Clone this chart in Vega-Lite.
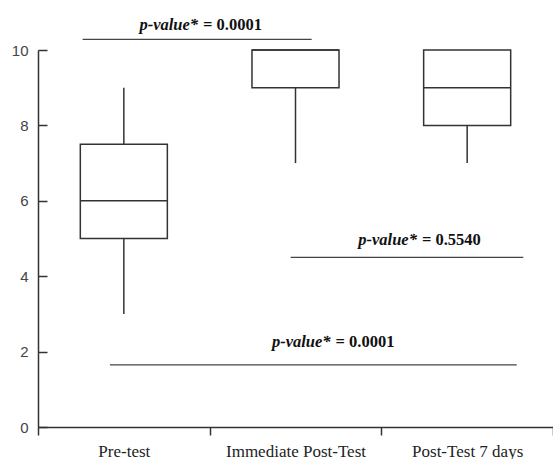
{
  "$schema": "https://vega.github.io/schema/vega-lite/v6.json",
  "width": 515,
  "height": 377,
  "autosize": "none",
  "padding": {"left": 38, "top": 50, "right": 0, "bottom": 32},
  "background": "white",
  "config": {"view": {"stroke": null}},
  "layer": [
    {
      "data": {"values": [
        {"group": "Pre-test", "lower": 3, "q1": 5, "median": 6, "q3": 7.5, "upper": 9},
        {"group": "Immediate Post-Test", "lower": 7, "q1": 9, "median": 10, "q3": 10, "upper": 10},
        {"group": "Post-Test 7 days", "lower": 7, "q1": 8, "median": 9, "q3": 10, "upper": 10}
      ]},
      "encoding": {
        "x": {
          "field": "group", "type": "nominal",
          "sort": ["Pre-test", "Immediate Post-Test", "Post-Test 7 days"],
          "scale": {"paddingInner": 0, "paddingOuter": 0},
          "axis": {
            "title": null, "labelAngle": 0, "domainColor": "#333", "domainWidth": 1.5,
            "tickColor": "#333", "tickWidth": 1.5, "tickSize": 8, "tickBand": "extent",
            "labelFont": "Liberation Serif", "labelFontSize": 17, "labelColor": "#222",
            "labelPadding": 8
          }
        }
      },
      "layer": [
        {"mark": {"type": "rule", "color": "#333", "strokeWidth": 1.5},
         "encoding": {"y": {"field": "lower", "type": "quantitative"}, "y2": {"field": "q1"}}},
        {"mark": {"type": "rule", "color": "#333", "strokeWidth": 1.5},
         "encoding": {"y": {"field": "q3", "type": "quantitative"}, "y2": {"field": "upper"}}},
        {"mark": {"type": "bar", "fill": "white", "stroke": "#333", "strokeWidth": 1.5, "width": {"band": 0.507}},
         "encoding": {
           "y": {"field": "q1", "type": "quantitative",
                 "scale": {"domain": [0, 10], "nice": false},
                 "axis": {"title": null, "values": [0, 2, 4, 6, 8, 10], "grid": false,
                          "domainColor": "#333", "domainWidth": 1.5, "tickColor": "#333", "tickWidth": 1.5,
                          "tickSize": -9, "labelFont": "Liberation Sans", "labelFontSize": 15,
                          "labelColor": "#444", "labelPadding": 19}},
           "y2": {"field": "q3"}}},
        {"mark": {"type": "tick", "color": "#333", "opacity": 1, "size": 87, "thickness": 1.5},
         "encoding": {"y": {"field": "median", "type": "quantitative"}}}
      ]
    },
    {
      "data": {"values": [
        {"x1": 0.26, "x2": 1.594, "yline": 10.28, "xt": 0.944, "yt": 10.66, "label": "p-value*", "value": "= 0.0001"},
        {"x1": 1.472, "x2": 2.827, "yline": 4.5, "xt": 2.219, "yt": 4.96, "label": "p-value*", "value": "= 0.5540"},
        {"x1": 0.419, "x2": 2.789, "yline": 1.65, "xt": 1.716, "yt": 2.26, "label": "p-value*", "value": "= 0.0001"}
      ]},
      "layer": [
        {"mark": {"type": "rule", "color": "#444", "strokeWidth": 1.2},
         "encoding": {
           "x": {"field": "x1", "type": "quantitative", "scale": {"domain": [0, 3], "nice": false}, "axis": null},
           "x2": {"field": "x2"},
           "y": {"field": "yline", "type": "quantitative"}}},
        {"mark": {"type": "text", "font": "Liberation Serif", "fontSize": 16.5, "fontWeight": "bold", "fontStyle": "italic", "align": "right", "baseline": "middle", "dx": -2, "color": "#111"},
         "encoding": {
           "x": {"field": "xt", "type": "quantitative", "scale": {"domain": [0, 3], "nice": false}, "axis": null},
           "y": {"field": "yt", "type": "quantitative"},
           "text": {"field": "label"}}},
        {"mark": {"type": "text", "font": "Liberation Serif", "fontSize": 16.5, "fontWeight": "bold", "align": "left", "baseline": "middle", "dx": 3, "color": "#111"},
         "encoding": {
           "x": {"field": "xt", "type": "quantitative", "scale": {"domain": [0, 3], "nice": false}, "axis": null},
           "y": {"field": "yt", "type": "quantitative"},
           "text": {"field": "value"}}}
      ]
    }
  ],
  "resolve": {"scale": {"x": "independent"}}
}
